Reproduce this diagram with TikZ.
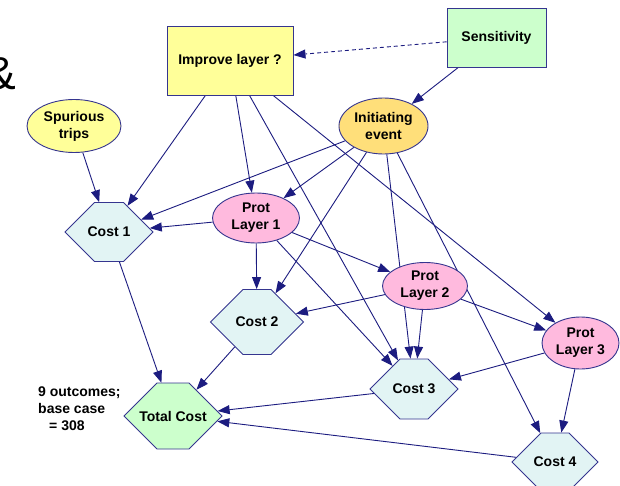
\documentclass[tikz,border=0pt]{standalone}
\usepackage{fontspec}
\setmainfont{Liberation Sans}
\usetikzlibrary{shapes.geometric,shapes.symbols,arrows.meta,backgrounds}
\definecolor{edgecol}{HTML}{1C1C80}
\definecolor{bordercol}{HTML}{35358F}
\definecolor{yellowfill}{HTML}{FFFF99}
\definecolor{greenfill}{HTML}{CCFFCC}
\definecolor{orangefill}{HTML}{FFDF7A}
\definecolor{pinkfill}{HTML}{FFBADE}
\definecolor{cyanfill}{HTML}{E2F4F4}
\newcommand{\zw}[1]{\makebox[0pt]{#1}}
\tikzset{
  lbl/.style={font=\fontsize{14}{17}\selectfont\bfseries, text=black, align=center, inner sep=0pt},
  boxnode/.style={lbl, rectangle, draw=bordercol, line width=0.9pt},
  ellnode/.style={lbl, ellipse, draw=bordercol, line width=0.9pt},
  hexnode/.style={lbl, signal, signal to=east and west, signal pointer angle=90, draw=bordercol, line width=0.9pt, fill=cyanfill},
  conn/.style={draw=edgecol, line width=0.9pt, -{Triangle[length=12pt,width=9pt]}},
  dconn/.style={conn, dashed, dash pattern=on 4pt off 3pt},
}
\begin{document}
\begin{tikzpicture}[x=1pt,y=-1pt]
\useasboundingbox (0,0) rectangle (620,486);

\node[font=\fontsize{46}{46}\selectfont, anchor=base east, inner sep=0pt] (amp) at (16,90) {\&};

\node[boxnode, fill=yellowfill, minimum width=126pt, minimum height=69pt] (imp) at (230,60.5) {Improve layer ?};
\node[boxnode, fill=greenfill, minimum width=99pt, minimum height=59pt] (sens) at (496.5,37.5) {Sensitivity};
\node[ellnode, fill=yellowfill, minimum width=94pt, minimum height=53pt] (spur) at (74,126) {Spurious\\trips};
\node[ellnode, fill=orangefill, minimum width=89pt, minimum height=56pt] (init) at (383.5,126) {Initiating\\event};
\node[ellnode, fill=pinkfill, minimum width=87pt, minimum height=50pt] (pl1) at (256,218) {Prot\\Layer 1};
\node[ellnode, fill=pinkfill, minimum width=85pt, minimum height=47pt] (pl2) at (425,286) {Prot\\Layer 2};
\node[ellnode, fill=pinkfill, minimum width=77pt, minimum height=52pt] (pl3) at (580.5,343) {Prot\\Layer 3};

\node[hexnode, minimum width=88pt, minimum height=59pt] (c1) at (109,232) {\zw{Cost 1}};
\node[hexnode, minimum width=93pt, minimum height=65pt] (c2) at (257,322) {\zw{Cost 2}};
\node[hexnode, minimum width=88pt, minimum height=60pt] (c3) at (414,389) {\zw{Cost 3}};
\node[hexnode, minimum width=86pt, minimum height=58pt] (c4) at (555,462) {\zw{Cost 4}};
\node[hexnode, fill=greenfill, minimum width=98pt, minimum height=66pt] (tot) at (173,416) {\zw{Total Cost}};

\node[lbl, font=\fontsize{14}{17}\selectfont\bfseries, align=left, anchor=north west] (note) at (38,387) {9 outcomes;\\base case\\\hspace*{11pt}= 308};

\begin{pgfonlayer}{background}
\fill[white] (0,0) rectangle (620,486);
\draw[dconn] (sens) -- (imp);
\draw[conn] (sens) -- (init);
\draw[conn] (spur) -- (c1);
\draw[conn] (imp) -- (c1);
\draw[conn] (imp) -- (pl1);
\draw[conn] (imp) -- (c3);
\draw[conn] (imp) -- (pl3);
\draw[conn] (init) -- (c1);
\draw[conn] (init) -- (pl1);
\draw[conn] (init) -- (c2);
\draw[conn] (init) -- (c3);
\draw[conn] (init) -- (c4);
\draw[conn] (pl1) -- (c1);
\draw[conn] (pl1) -- (c2);
\draw[conn] (pl1) -- (pl2);
\draw[conn] (pl1) -- (c3);
\draw[conn] (pl2) -- (c2);
\draw[conn] (pl2) -- (c3);
\draw[conn] (pl2) -- (pl3);
\draw[conn] (pl3) -- (c3);
\draw[conn] (pl3) -- (c4);
\draw[conn] (c1) -- (tot);
\draw[conn] (c2) -- (tot);
\draw[conn] (c3) -- (tot);
\draw[conn] (c4) -- (tot);
\end{pgfonlayer}
\end{tikzpicture}
\end{document}
